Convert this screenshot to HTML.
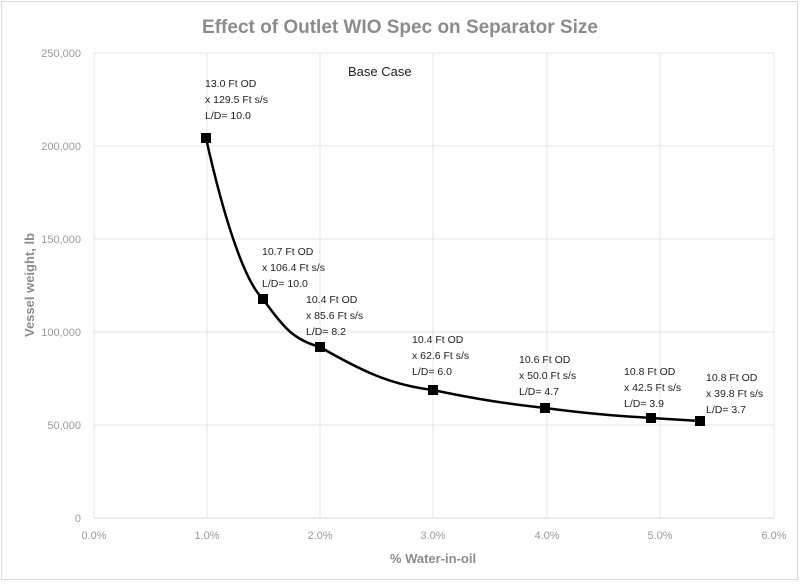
<!DOCTYPE html>
<html><head><style>
body{margin:0;background:#fff;}
svg text{font-family:"Liberation Sans",Arial,sans-serif;}
</style></head><body>
<svg width="800" height="582" xmlns="http://www.w3.org/2000/svg">
<rect x="1.5" y="1.5" width="796" height="578" fill="#fff" stroke="#d9d9d9"/>
<text x="400" y="33" text-anchor="middle" font-size="19" font-weight="bold" fill="#8c8c8c">Effect of Outlet WIO Spec on Separator Size</text>
<g stroke="#e6e6e6" stroke-width="1">
<line x1="94" y1="53" x2="774" y2="53"/><line x1="94" y1="146" x2="774" y2="146"/>
<line x1="94" y1="239" x2="774" y2="239"/><line x1="94" y1="332" x2="774" y2="332"/>
<line x1="94" y1="425" x2="774" y2="425"/>
<line x1="207" y1="53" x2="207" y2="518"/><line x1="320" y1="53" x2="320" y2="518"/>
<line x1="433" y1="53" x2="433" y2="518"/><line x1="547" y1="53" x2="547" y2="518"/>
<line x1="660" y1="53" x2="660" y2="518"/><line x1="774" y1="53" x2="774" y2="518"/>
<line x1="94" y1="53" x2="94" y2="518"/>
</g>
<line x1="94" y1="518" x2="774" y2="518" stroke="#d9d9d9"/>
<g font-size="11" fill="#9a9a9a" text-anchor="end">
<text x="81" y="57">250,000</text><text x="81" y="150">200,000</text><text x="81" y="243">150,000</text>
<text x="81" y="336">100,000</text><text x="81" y="429">50,000</text><text x="81" y="522">0</text>
</g>
<g font-size="11" fill="#9a9a9a" text-anchor="middle">
<text x="94" y="539">0.0%</text><text x="207" y="539">1.0%</text><text x="320" y="539">2.0%</text>
<text x="433" y="539">3.0%</text><text x="547" y="539">4.0%</text><text x="660" y="539">5.0%</text><text x="774" y="539">6.0%</text>
</g>
<text x="433" y="563" text-anchor="middle" font-size="13" font-weight="bold" fill="#8c8c8c">% Water-in-oil</text>
<text transform="translate(34,285) rotate(-90)" text-anchor="middle" font-size="13" font-weight="bold" fill="#8c8c8c">Vessel weight, lb</text>
<text x="348" y="76" font-size="13" fill="#222">Base Case</text>
<path d="M206,138 C222,210 243,280 263,299 C285,330 295,340 320,347 C360,370 390,385 433,390 C480,400 510,404 545,408 C590,414 620,416 651,418 L700,421" fill="none" stroke="#000" stroke-width="2.5"/>
<g fill="#000">
<rect x="201" y="133" width="10" height="10"/><rect x="258" y="294" width="10" height="10"/>
<rect x="315" y="342" width="10" height="10"/><rect x="428" y="385" width="10" height="10"/>
<rect x="540" y="403" width="10" height="10"/><rect x="646" y="413" width="10" height="10"/>
<rect x="695" y="416" width="10" height="10"/>
</g>
<g font-size="10.5" fill="#222">
<text x="205" y="87">13.0 Ft OD</text><text x="205" y="103">x 129.5 Ft s/s</text><text x="205" y="119">L/D= 10.0</text>
<text x="262" y="255">10.7 Ft OD</text><text x="262" y="271">x 106.4 Ft s/s</text><text x="262" y="287">L/D= 10.0</text>
<text x="306" y="303">10.4 Ft OD</text><text x="306" y="319">x 85.6 Ft s/s</text><text x="306" y="335">L/D= 8.2</text>
<text x="412" y="343">10.4 Ft OD</text><text x="412" y="359">x 62.6 Ft s/s</text><text x="412" y="375">L/D= 6.0</text>
<text x="519" y="363">10.6 Ft OD</text><text x="519" y="379">x 50.0 Ft s/s</text><text x="519" y="395">L/D= 4.7</text>
<text x="624" y="375">10.8 Ft OD</text><text x="624" y="391">x 42.5 Ft s/s</text><text x="624" y="407">L/D= 3.9</text>
<text x="706" y="381">10.8 Ft OD</text><text x="706" y="397">x 39.8 Ft s/s</text><text x="706" y="413">L/D= 3.7</text>
</g>
</svg>
</body></html>
